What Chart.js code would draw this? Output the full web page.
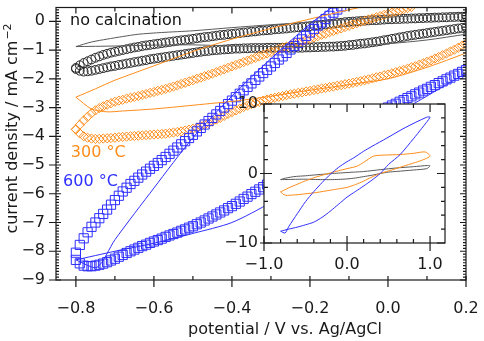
<!DOCTYPE html>
<html>
<head>
<meta charset="utf-8">
<script src="https://cdn.jsdelivr.net/npm/chart.js@4.4.1/dist/chart.umd.min.js"></script>
<style>
  body { margin: 0; background: #fff; }
  #wrap { position: relative; width: 484px; height: 341px; }
  #main { position: absolute; left: 0; top: 0; }
  #inset { position: absolute; left: 205px; top: 80px; }
</style>
</head>
<body>
<div id="wrap">
  <canvas id="main" width="484" height="341"></canvas>
  <canvas id="inset" width="265" height="200"></canvas>
</div>
<script>
// tick labels
var mainXTicks = [-0.8, -0.6, -0.4, -0.2, 0.0, 0.2];
var mainYTicks = [0, -1, -2, -3, -4, -5, -6, -7, -8, -9];
var insetXTicks = [-1, 0, 1];
var insetYTicks = [-10, 0, 10];

// marker curves (main plot), one value per 10 mV ----------------
var potential = [-0.80, -0.79, -0.78, -0.77, -0.76, -0.75, -0.74, -0.73, -0.72, -0.71,
  -0.70, -0.69, -0.68, -0.67, -0.66, -0.65, -0.64, -0.63, -0.62, -0.61,
  -0.60, -0.59, -0.58, -0.57, -0.56, -0.55, -0.54, -0.53, -0.52, -0.51,
  -0.50, -0.49, -0.48, -0.47, -0.46, -0.45, -0.44, -0.43, -0.42, -0.41,
  -0.40, -0.39, -0.38, -0.37, -0.36, -0.35, -0.34, -0.33, -0.32, -0.31,
  -0.30, -0.29, -0.28, -0.27, -0.26, -0.25, -0.24, -0.23, -0.22, -0.21,
  -0.20, -0.19, -0.18, -0.17, -0.16, -0.15, -0.14, -0.13, -0.12, -0.11,
  -0.10, -0.09, -0.08, -0.07, -0.06, -0.05, -0.04, -0.03, -0.02, -0.01,
  0.00, 0.01, 0.02, 0.03, 0.04, 0.05, 0.06, 0.07, 0.08, 0.09,
  0.10, 0.11, 0.12, 0.13, 0.14, 0.15, 0.16, 0.17, 0.18, 0.19, 0.20];

// no calcination
var noCalcUp = [-1.62, -1.53, -1.45, -1.39, -1.33, -1.27, -1.22, -1.17, -1.13, -1.09,
  -1.06, -1.03, -1.00, -0.97, -0.94, -0.91, -0.89, -0.86, -0.84, -0.82,
  -0.80, -0.78, -0.76, -0.74, -0.72, -0.70, -0.68, -0.66, -0.65, -0.63,
  -0.61, -0.59, -0.57, -0.55, -0.54, -0.52, -0.50, -0.48, -0.47, -0.45,
  -0.44, -0.42, -0.41, -0.39, -0.38, -0.36, -0.35, -0.33, -0.32, -0.31,
  -0.30, -0.28, -0.27, -0.26, -0.25, -0.23, -0.22, -0.21, -0.20, -0.18,
  -0.17, -0.15, -0.14, -0.12, -0.11, -0.09, -0.08, -0.06, -0.05, -0.03,
  -0.02, -0.01, 0.00, 0.01, 0.02, 0.03, 0.04, 0.04, 0.05, 0.06,
  0.07, 0.07, 0.08, 0.08, 0.09, 0.09, 0.10, 0.10, 0.11, 0.11,
  0.12, 0.12, 0.13, 0.13, 0.14, 0.14, 0.15, 0.15, 0.16, 0.16, 0.17];
var noCalcDown = [-1.66, -1.72, -1.75, -1.74, -1.72, -1.69, -1.66, -1.63, -1.60, -1.57,
  -1.55, -1.52, -1.50, -1.47, -1.45, -1.42, -1.40, -1.37, -1.35, -1.32,
  -1.30, -1.28, -1.26, -1.24, -1.22, -1.20, -1.18, -1.16, -1.14, -1.12,
  -1.10, -1.08, -1.06, -1.04, -1.03, -1.01, -1.00, -0.99, -0.98, -0.97,
  -0.96, -0.95, -0.95, -0.94, -0.94, -0.93, -0.93, -0.93, -0.93, -0.92,
  -0.92, -0.92, -0.92, -0.92, -0.92, -0.92, -0.92, -0.92, -0.92, -0.91,
  -0.91, -0.90, -0.90, -0.89, -0.89, -0.88, -0.88, -0.87, -0.86, -0.85,
  -0.83, -0.82, -0.80, -0.78, -0.77, -0.75, -0.73, -0.71, -0.69, -0.66,
  -0.64, -0.61, -0.59, -0.56, -0.54, -0.51, -0.49, -0.47, -0.45, -0.43,
  -0.41, -0.39, -0.37, -0.35, -0.33, -0.31, -0.29, -0.27, -0.25, -0.23, -0.21];

// 300 °C
var c300Up = [-3.76, -3.60, -3.45, -3.32, -3.20, -3.10, -3.02, -2.96, -2.90, -2.85,
  -2.80, -2.76, -2.73, -2.69, -2.66, -2.63, -2.60, -2.56, -2.53, -2.49,
  -2.46, -2.42, -2.39, -2.35, -2.31, -2.27, -2.23, -2.18, -2.14, -2.09,
  -2.05, -2.00, -1.96, -1.91, -1.87, -1.82, -1.77, -1.72, -1.67, -1.62,
  -1.57, -1.52, -1.47, -1.42, -1.37, -1.32, -1.27, -1.22, -1.17, -1.12,
  -1.07, -1.02, -0.97, -0.92, -0.88, -0.83, -0.79, -0.74, -0.70, -0.65,
  -0.61, -0.56, -0.52, -0.47, -0.43, -0.38, -0.34, -0.29, -0.25, -0.20,
  -0.16, -0.11, -0.07, -0.02, 0.02, 0.06, 0.10, 0.14, 0.18, 0.22,
  0.26, 0.30, 0.34, 0.38, 0.42, 0.46, 0.50, null, null, null,
  null, null, null, null, null, null, null, null, null, null, null];
var c300Down = [-3.76, -3.90, -4.00, -4.05, -4.08, -4.09, -4.09, -4.08, -4.07, -4.06,
  -4.05, -4.03, -4.02, -4.01, -4.00, -3.99, -3.98, -3.97, -3.96, -3.95,
  -3.94, -3.93, -3.92, -3.91, -3.89, -3.87, -3.85, -3.83, -3.80, -3.77,
  -3.74, -3.70, -3.65, -3.60, -3.54, -3.48, -3.42, -3.36, -3.29, -3.22,
  -3.16, -3.10, -3.04, -2.98, -2.93, -2.88, -2.84, -2.80, -2.76, -2.72,
  -2.69, -2.66, -2.63, -2.60, -2.57, -2.54, -2.52, -2.49, -2.47, -2.44,
  -2.42, -2.39, -2.37, -2.34, -2.32, -2.29, -2.27, -2.24, -2.22, -2.19,
  -2.17, -2.14, -2.11, -2.08, -2.05, -2.02, -1.99, -1.95, -1.92, -1.88,
  -1.85, -1.81, -1.77, -1.73, -1.69, -1.65, -1.60, -1.56, -1.51, -1.46,
  -1.41, -1.36, -1.30, -1.24, -1.18, -1.12, -1.05, -0.99, -0.92, -0.85, -0.78];

// 600 °C
var c600Up = [-8.05, -7.78, -7.55, -7.34, -7.15, -7.00, -6.85, -6.70, -6.55, -6.38,
  -6.22, -6.07, -5.92, -5.79, -5.66, -5.55, -5.44, -5.33, -5.23, -5.13,
  -5.03, -4.93, -4.83, -4.72, -4.61, -4.50, -4.39, -4.28, -4.17, -4.06,
  -3.95, -3.83, -3.71, -3.59, -3.47, -3.36, -3.24, -3.12, -3.00, -2.88,
  -2.76, -2.64, -2.52, -2.40, -2.28, -2.16, -2.04, -1.92, -1.80, -1.69,
  -1.57, -1.45, -1.33, -1.22, -1.10, -0.98, -0.86, -0.75, -0.63, -0.51,
  -0.39, -0.27, -0.15, -0.04, 0.08, 0.19, 0.30, 0.41, 0.52, null,
  null, null, null, null, null, null, null, null, null, null,
  null, null, null, null, null, null, null, null, null, null,
  null, null, null, null, null, null, null, null, null, null, null];
var c600Down = [-8.30, -8.42, -8.50, -8.52, -8.52, -8.50, -8.47, -8.43, -8.38, -8.32,
  -8.26, -8.19, -8.13, -8.06, -8.00, -7.94, -7.88, -7.82, -7.77, -7.71,
  -7.66, -7.61, -7.56, -7.50, -7.45, -7.40, -7.35, -7.29, -7.24, -7.18,
  -7.13, -7.06, -7.00, -6.93, -6.86, -6.79, -6.72, -6.65, -6.58, -6.50,
  -6.43, -6.35, -6.27, -6.18, -6.10, -6.01, -5.93, -5.85, -5.77, -5.68,
  -5.60, -5.51, -5.42, -5.33, -5.24, -5.15, -5.06, -4.97, -4.88, -4.79,
  -4.70, -4.61, -4.52, -4.43, -4.34, -4.25, -4.16, -4.07, -3.98, -3.89,
  -3.80, -3.71, -3.62, -3.53, -3.45, -3.37, -3.30, -3.22, -3.15, -3.07,
  -3.00, -2.93, -2.87, -2.80, -2.74, -2.67, -2.61, -2.54, -2.48, -2.41,
  -2.35, -2.28, -2.22, -2.15, -2.09, -2.02, -1.96, -1.89, -1.83, -1.76, -1.70];

// wide range CV loops (thin lines, also the inset) ----------
var loopNoCalcV = [-0.80, -0.76, -0.72, -0.68, -0.64, -0.58, -0.50, -0.40, -0.30, -0.20,
  -0.10, 0.00, 0.10, 0.20, 0.40, 0.60, 0.80, 0.97, 1.00,
  0.96, 0.80, 0.60, 0.50, 0.40, 0.30, 0.20, 0.10, 0.00, -0.10,
  -0.20, -0.30, -0.40, -0.50, -0.60, -0.70, -0.80];
var loopNoCalcI = [-0.88, -0.72, -0.62, -0.53, -0.45, -0.39, -0.33, -0.22, -0.12, -0.03,
  0.06, 0.14, 0.21, 0.28, 0.55, 0.80, 0.98, 1.15, 1.10,
  0.70, 0.50, 0.30, 0.20, 0.00, -0.25, -0.45, -0.65, -0.78, -0.85,
  -0.88, -0.88, -0.86, -0.82, -0.83, -0.86, -0.88];

var loop300V = [-0.80, -0.75, -0.70, -0.60, -0.50, -0.40, -0.30, -0.20, -0.10, 0.00,
  0.12, 0.20, 0.32, 0.45, 0.64, 0.80, 0.94, 1.00,
  0.90, 0.80, 0.68, 0.55, 0.40, 0.30, 0.20, 0.10, 0.00, -0.10,
  -0.20, -0.37, -0.50, -0.60, -0.68, -0.72, -0.76, -0.80];
var loop300I = [-2.64, -2.35, -2.05, -1.55, -1.05, -0.62, -0.25, 0.08, 0.40, 0.70,
  1.05, 1.60, 2.50, 2.65, 2.73, 2.90, 3.10, 2.50,
  1.90, 1.50, 1.05, 0.55, 0.00, -0.50, -1.10, -1.60, -2.00, -2.20,
  -2.40, -2.74, -2.92, -3.05, -3.12, -3.15, -3.05, -2.64];

var loop600V = [-0.80, -0.746, -0.70, -0.60, -0.50, -0.40, -0.30, -0.20, -0.10, 0.00,
  0.08, 0.20, 0.30, 0.48, 0.70, 0.96, 1.00,
  0.90, 0.80, 0.64, 0.50, 0.40, 0.30, 0.20, 0.10, 0.00, -0.10,
  -0.20, -0.30, -0.40, -0.50, -0.60, -0.70, -0.80];
var loop600I = [-8.30, -8.56, -7.60, -5.80, -4.05, -2.60, -1.30, -0.10, 0.90, 1.70,
  2.25, 3.20, 3.90, 5.10, 6.60, 8.10, 8.10,
  6.50, 5.00, 2.73, 1.30, 0.00, -0.95, -1.80, -2.60, -3.40, -4.40,
  -5.40, -6.30, -7.00, -7.38, -7.72, -8.00, -8.30];

// colours
var black = '#2a2a2a';
var gray = '#5a5a5a';
var orange = '#ff8c1a';
var blue = '#2f2fff';
var FONT = '"DejaVu Sans", Verdana, sans-serif';

function pts(xs, ys) {
  var out = [];
  for (var i = 0; i < xs.length; i++) {
    if (ys[i] !== null) out.push({ x: xs[i], y: ys[i] });
  }
  return out;
}

function fmt(v, dec) {
  return v.toFixed(dec).replace('-', '\u2212');
}

function between(from, to, step, skip) {
  var out = [];
  for (var v = from; v <= to + 1e-9; v += step) {
    var r = Math.round(v * 1000) / 1000;
    if (skip.indexOf(r) < 0) out.push(r);
  }
  return out;
}

// ticks drawn inside / across the frame, like the original
function frame(spec) {
  return {
    id: 'frame',
    beforeDraw: function (chart) {
      if (!spec.fill) return;
      var a = chart.chartArea, ctx = chart.ctx;
      ctx.save();
      ctx.fillStyle = '#fff';
      ctx.fillRect(a.left, a.top, a.right - a.left, a.bottom - a.top);
      ctx.restore();
    },
    afterDraw: function (chart) {
      var a = chart.chartArea, ctx = chart.ctx;
      var xs = chart.scales.x, ys = chart.scales.y;
      ctx.save();
      ctx.strokeStyle = '#1a1a1a';
      ctx.lineWidth = 1.2;
      ctx.strokeRect(a.left, a.top, a.right - a.left, a.bottom - a.top);
      function marks(scale, values, edge, out, inn) {
        ctx.beginPath();
        values.forEach(function (v) {
          var p = scale.getPixelForValue(v);
          if (edge === 'bottom') { ctx.moveTo(p, a.bottom + out); ctx.lineTo(p, a.bottom - inn); }
          if (edge === 'top') { ctx.moveTo(p, a.top - out); ctx.lineTo(p, a.top + inn); }
          if (edge === 'left') { ctx.moveTo(a.left - out, p); ctx.lineTo(a.left + inn, p); }
          if (edge === 'right') { ctx.moveTo(a.right + out, p); ctx.lineTo(a.right - inn, p); }
        });
        ctx.stroke();
      }
      var L = spec.len;
      marks(xs, spec.xMajor, 'bottom', L.bMajOut, L.bMajIn);
      marks(xs, spec.xMinor, 'bottom', 0, L.minor);
      marks(xs, spec.xMajor, 'top', 0, L.topMaj);
      marks(xs, spec.xMinor, 'top', 0, L.minor);
      marks(ys, spec.yMajor, 'left', L.lMajOut, L.lMajIn);
      marks(ys, spec.yMinor, 'left', 0, L.yMinor);
      marks(ys, spec.yMajor, 'right', 0, L.rMaj);
      marks(ys, spec.yMinor, 'right', 0, L.yMinor);
      ctx.restore();
      if (spec.after) spec.after(chart);
    }
  };
}

function tickFont() {
  return { family: FONT, size: 16 };
}

function fitX(h) {
  return function (s) { s.height = h; s.paddingLeft = 0; s.paddingRight = 0; };
}
function fitY(w) {
  return function (s) { s.width = w; s.paddingTop = 0; s.paddingBottom = 0; };
}

// main chart ==================================================
var mainChart = new Chart(document.getElementById('main'), {
  type: 'scatter',
  data: {
    datasets: [
      { data: pts(loop600V, loop600I), showLine: true, borderColor: blue, borderWidth: 1, pointRadius: 0, tension: 0.25, order: 1 },
      { data: pts(loop300V, loop300I), showLine: true, borderColor: orange, borderWidth: 1, pointRadius: 0, tension: 0.25, order: 2 },
      { data: pts(loopNoCalcV, loopNoCalcI), showLine: true, borderColor: gray, borderWidth: 1, pointRadius: 0, tension: 0.25, order: 3 },
      { data: pts(potential, c600Up).concat(pts(potential, c600Down)), showLine: false,
        pointStyle: 'rect', pointRadius: 6.5, borderColor: blue, backgroundColor: 'rgba(0,0,0,0)', pointBorderWidth: 1, order: 4 },
      { data: pts(potential, c300Up).concat(pts(potential, c300Down)), showLine: false,
        pointStyle: 'rectRot', pointRadius: 4.6, borderColor: orange, backgroundColor: 'rgba(0,0,0,0)', pointBorderWidth: 1, order: 5 },
      { data: pts(potential, noCalcUp).concat(pts(potential, noCalcDown)), showLine: false,
        pointStyle: 'circle', pointRadius: 4.4, borderColor: black, backgroundColor: 'rgba(0,0,0,0)', pointBorderWidth: 1, order: 6 }
    ]
  },
  options: {
    responsive: false,
    animation: false,
    events: [],
    layout: { padding: { left: 0, top: 3, right: 18, bottom: 0 } },
    plugins: { legend: { display: false }, tooltip: { enabled: false } },
    scales: {
      x: {
        type: 'linear', min: -0.851, max: 0.2,
        grid: { display: false, drawTicks: false }, border: { display: false },
        ticks: { font: tickFont(), color: '#1a1a1a', padding: 19, maxRotation: 0,
          callback: function (v) { return fmt(v, 1); } },
        afterBuildTicks: function (s) { s.ticks = mainXTicks.map(function (v) { return { value: v }; }); },
        afterFit: fitX(61)
      },
      y: {
        type: 'linear', min: -9, max: 0.48,
        grid: { display: false, drawTicks: false }, border: { display: false },
        ticks: { font: tickFont(), color: '#1a1a1a', padding: 11,
          callback: function (v) { return fmt(v, 0); } },
        afterBuildTicks: function (s) { s.ticks = mainYTicks.map(function (v) { return { value: v }; }); },
        afterFit: fitY(56)
      }
    }
  },
  plugins: [frame({
    xMajor: mainXTicks,
    xMinor: between(-0.8, 0.2, 0.1, mainXTicks),
    yMajor: mainYTicks,
    yMinor: between(-9, 0.4, 0.1, mainYTicks),
    len: { bMajOut: 7, bMajIn: 4, minor: 4, topMaj: 6, lMajOut: 7, lMajIn: 5, yMinor: 3, rMaj: 6 },
    after: function (chart) {
      var ctx = chart.ctx, xs = chart.scales.x, ys = chart.scales.y;
      ctx.save();
      ctx.font = '16px ' + FONT;
      ctx.textBaseline = 'middle';
      ctx.textAlign = 'left';
      ctx.fillStyle = '#111';
      ctx.fillText('no calcination', xs.getPixelForValue(-0.815), ys.getPixelForValue(0.0));
      ctx.fillStyle = orange;
      ctx.fillText('300 \u00b0C', xs.getPixelForValue(-0.813), ys.getPixelForValue(-4.58));
      ctx.fillStyle = blue;
      ctx.fillText('600 \u00b0C', xs.getPixelForValue(-0.833), ys.getPixelForValue(-5.6));

      // axis titles
      ctx.fillStyle = '#1a1a1a';
      ctx.textAlign = 'center';
      ctx.fillText('potential / V vs. Ag/AgCl', 285, 330);

      ctx.translate(13, 129);
      ctx.rotate(-Math.PI / 2);
      var base = 'current density / mA cm', sup = '\u22122';
      ctx.font = '16px ' + FONT;
      var w1 = ctx.measureText(base).width;
      ctx.font = '11px ' + FONT;
      var w2 = ctx.measureText(sup).width;
      var start = -(w1 + w2) / 2;
      ctx.textAlign = 'left';
      ctx.font = '16px ' + FONT;
      ctx.fillText(base, start, 0);
      ctx.font = '11px ' + FONT;
      ctx.fillText(sup, start + w1 + 1, -5);
      ctx.restore();
    }
  })]
});

// inset =======================================================
var insetChart = new Chart(document.getElementById('inset'), {
  type: 'scatter',
  data: {
    datasets: [
      { data: pts(loop600V, loop600I), showLine: true, borderColor: blue, borderWidth: 1, pointRadius: 0, tension: 0.25 },
      { data: pts(loop300V, loop300I), showLine: true, borderColor: orange, borderWidth: 1, pointRadius: 0, tension: 0.25 },
      { data: pts(loopNoCalcV, loopNoCalcI), showLine: true, borderColor: gray, borderWidth: 1, pointRadius: 0, tension: 0.25 }
    ]
  },
  options: {
    responsive: false,
    animation: false,
    events: [],
    layout: { padding: { left: 0, top: 24, right: 25, bottom: 0 } },
    plugins: { legend: { display: false }, tooltip: { enabled: false } },
    scales: {
      x: {
        type: 'linear', min: -1.0, max: 1.18,
        grid: { display: false, drawTicks: false }, border: { display: false },
        ticks: { font: tickFont(), color: '#1a1a1a', padding: 12, maxRotation: 0,
          callback: function (v) { return fmt(v, 1); } },
        afterBuildTicks: function (s) { s.ticks = insetXTicks.map(function (v) { return { value: v }; }); },
        afterFit: fitX(37)
      },
      y: {
        type: 'linear', min: -10, max: 10,
        grid: { display: false, drawTicks: false }, border: { display: false },
        ticks: { font: tickFont(), color: '#1a1a1a', padding: 6,
          callback: function (v) { return fmt(v, 0); } },
        afterBuildTicks: function (s) { s.ticks = insetYTicks.map(function (v) { return { value: v }; }); },
        afterFit: fitY(59)
      }
    }
  },
  plugins: [frame({
    fill: true,
    xMajor: insetXTicks,
    xMinor: between(-0.8, 1.0, 0.2, insetXTicks),
    yMajor: insetYTicks,
    yMinor: between(-8, 8, 2, insetYTicks),
    len: { bMajOut: 8, bMajIn: 7, minor: 4, topMaj: 8, lMajOut: 4, lMajIn: 8, yMinor: 4, rMaj: 8 }
  })]
});
</script>
</body>
</html>
